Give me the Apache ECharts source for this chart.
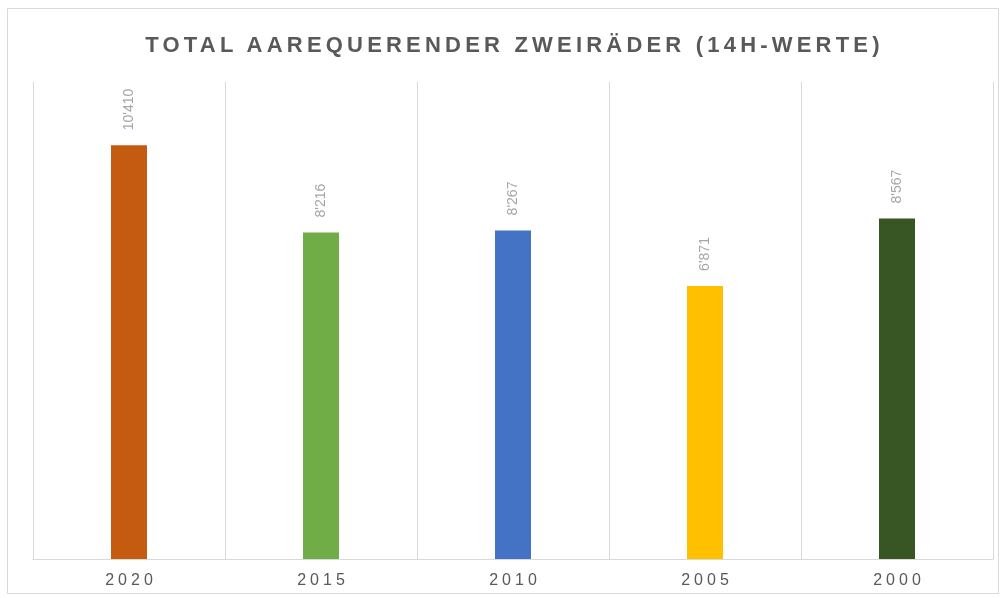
<!DOCTYPE html>
<html>
<head>
<meta charset="utf-8">
<script src="https://cdn.jsdelivr.net/npm/echarts@6/dist/echarts.min.js"></script>
<style>
  html, body { margin: 0; padding: 0; background: #fff; }
  #wrap { width: 1005px; height: 598px; position: relative; }
  #main { width: 1005px; height: 598px; position: absolute; left: 0; top: 0; }
  #title {
    position: absolute; left: 12px; top: 32px; width: 1005px; text-align: center;
    font-family: "Liberation Sans", Arial, sans-serif; font-weight: bold;
    font-size: 22px; letter-spacing: 4.2px; color: #595959; z-index: 5;
    pointer-events: none;
  }
</style>
</head>
<body>
<div id="wrap">
  <div id="main"></div>
  <div id="title">TOTAL AAREQUERENDER ZWEIRÄDER (14H-WERTE)</div>
</div>
<script>
// Jahre und Werte
var years = ['2020', '2015', '2010', '2005', '2000'];
var values = [10410, 8216, 8267, 6871, 8567];
var valueLabels = ["10'410", "8'216", "8'267", "6'871", "8'567"];
var barColors = ['#c55a11', '#70ad47', '#4472c4', '#ffc000', '#375623'];

var seriesData = values.map(function (v, i) {
    return { value: v, itemStyle: { color: barColors[i] } };
});

var option = {
    animation: false,
    backgroundColor: '#ffffff',
    grid: { left: 33, right: 12, top: 82, bottom: 39 },
    graphic: [{
        type: 'rect',
        shape: { x: 7.5, y: 8.5, width: 991, height: 585 },
        style: { fill: 'none', stroke: '#d9d9d9', lineWidth: 1 },
        silent: true
    }],
    xAxis: {
        type: 'category',
        data: years,
        axisLine: { lineStyle: { color: '#d9d9d9', width: 1 } },
        axisTick: { show: false },
        splitLine: { show: true, lineStyle: { color: '#d9d9d9', width: 1 } },
        axisLabel: {
            color: '#595959',
            fontSize: 16,
            margin: 14,
            fontFamily: 'Liberation Sans, Arial, sans-serif',
            formatter: function (v) { return v.split('').join('\u2005'); }
        }
    },
    yAxis: {
        type: 'value',
        min: 0,
        max: 12000,
        show: false,
        splitLine: { show: false }
    },
    series: [{
        type: 'bar',
        data: seriesData,
        barWidth: 36,
        label: {
            show: true,
            position: 'top',
            rotate: 90,
            align: 'left',
            verticalAlign: 'middle',
            distance: 15,
            color: '#a6a6a6',
            fontSize: 14,
            fontFamily: 'Liberation Sans, Arial, sans-serif',
            formatter: function (p) { return valueLabels[p.dataIndex]; }
        }
    }]
};

var myChart = echarts.init(document.getElementById('main'));
myChart.setOption(option);
</script>
</body>
</html>
